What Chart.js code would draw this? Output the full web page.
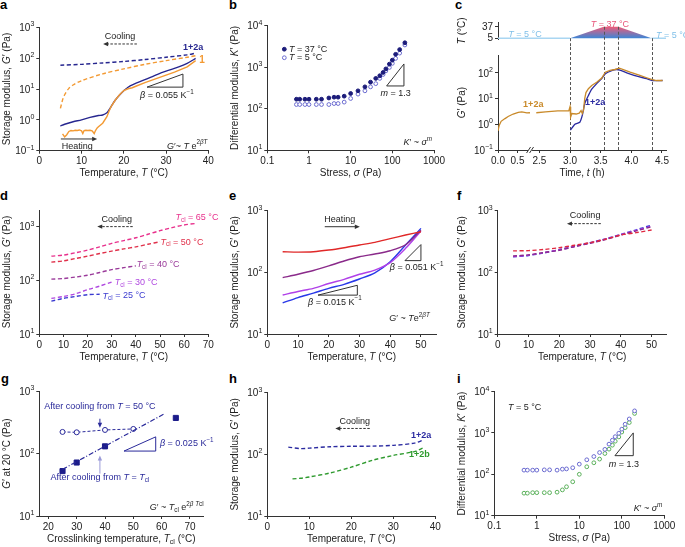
<!DOCTYPE html>
<html>
<head>
<meta charset="UTF-8">
<title>Figure</title>
<script src="https://cdn.jsdelivr.net/npm/chart.js"></script>
<style>
body { margin: 0; background: #fff; }
#fig { position: relative; width: 685px; height: 547px; overflow: hidden; font-family: "Liberation Sans", Arial, sans-serif; }
#fig canvas { position: absolute; }
.lab { position: absolute; font-weight: bold; font-size: 13px; line-height: 13px; color: #000; }
</style>
</head>
<body>
<div id="fig">
  <div class="lab" style="left:0px;top:-2px">a</div>
  <div class="lab" style="left:229px;top:-2px">b</div>
  <div class="lab" style="left:455px;top:-2px">c</div>
  <div class="lab" style="left:0px;top:189px">d</div>
  <div class="lab" style="left:229px;top:189px">e</div>
  <div class="lab" style="left:457px;top:189px">f</div>
  <div class="lab" style="left:1px;top:372px">g</div>
  <div class="lab" style="left:229px;top:372px">h</div>
  <div class="lab" style="left:457px;top:372px">i</div>
</div>
<script>
// ---- data ----
// a: G' vs T, heating (solid) and cooling (dashed)
const aTcool1 = [5, 5.5, 6, 7, 8, 10, 15, 20, 25, 30, 35, 37];
const aGcool1 = [2.36, 4.4, 6.5, 10.5, 13.5, 18.6, 31, 45, 63, 83, 107, 120];
const aTcool2a = [5, 10, 15, 20, 25, 30, 35, 37];
const aGcool2a = [59, 63, 70, 78, 90, 107, 128, 145];
const aTheat1 = [5.5, 6, 6.5, 7, 7.5, 8, 8.5, 9, 9.5, 10, 10.3, 10.6, 11, 11.5, 12, 12.5, 13, 13.3, 13.7, 14,
                 15, 16, 16.5, 17, 18, 19, 20, 21, 22, 23, 25, 27, 30, 32, 35, 37];
const aGheat1 = [0.35, 0.28, 0.33, 0.42, 0.45, 0.44, 0.46, 0.45, 0.47, 0.44, 0.36, 0.45, 0.46, 0.45, 0.46, 0.44, 0.36, 0.45, 0.55, 0.6,
                 0.78, 1.27, 1.9, 2.7, 4.4, 6.5, 8.9, 10.2, 11, 12.5, 16, 20, 28, 35, 52, 83];
const aTheat2a = [5, 6, 8, 10, 12, 14, 15, 16, 16.5, 17, 18, 19, 20, 21.5, 25, 28, 30, 33, 35, 37];
const aGheat2a = [0.63, 0.72, 0.87, 1.0, 1.2, 1.38, 1.44, 1.7, 2.1, 2.7, 4.4, 6.4, 8.8, 12.6, 20, 30, 38, 52, 68, 98];

// b, i: K' vs stress
const sig = [0.5, 0.6, 0.8, 1, 1.5, 2, 3, 4, 5, 7, 10, 15, 22, 30, 40, 50, 60, 70, 85, 100, 120, 150, 200];
const bK37 = [169, 169, 169, 169, 169, 169, 181, 189, 189, 200, 232, 269, 335, 435, 535, 620, 743, 905, 1180, 1470, 2030, 2640, 3850];
const bK5 = [126, 126, 126, 126, 126, 126, 126, 133, 133, 144, 176, 224, 269, 335, 400, 535, 665, 810, 980, 1230, 1620, 2170, 3400];
const iK2a = [126, 126, 126, 126, 128, 128, 126, 133, 135, 144, 176, 224, 269, 335, 400, 535, 665, 810, 980, 1230, 1620, 2170, 3400];
const iK2b = [35, 35, 36, 36, 36, 36, 37, 42, 50, 66, 100, 152, 190, 233, 318, 405, 505, 630, 800, 1050, 1340, 1780, 2950];

// c: temperature programme and G' vs time
const cTempT = [0, 3.0, 3.55, 3.79, 4.33, 4.57];
const cTempC = [5, 5, 37, 37, 5, 5];
const cTicksT = [0, 0.5, 2.5, 3.0, 3.5, 4.0, 4.5];
const cT1 = [0, 0.03, 0.08, 0.18, 0.26, 0.39, 0.52, 0.61, 0.74, 0.82, 0.83, 2.45, 2.6, 2.8, 2.98, 3.0, 3.01, 3.03, 3.1, 3.15,
             3.18, 3.2, 3.22, 3.24, 3.26, 3.3, 3.354, 3.435, 3.517, 3.576, 3.652, 3.734, 3.804, 3.87, 3.98, 4.14, 4.25, 4.34, 4.41, 4.51];
const cG1 = [0.55, 0.9, 1.3, 1.66, 2.0, 2.5, 2.9, 3.0, 2.75, 2.8, null, 2.8, 3.0, 3.3, 3.3, 4.8, 1.9, 2.6, 2.5, 2.7,
             3.4, 2.6, 3.5, 10, 17, 24, 32, 43, 62, 105, 123, 134, 150, 133, 105, 79, 64, 54, 50, 50];
const cT2 = [3.006, 3.08, 3.16, 3.2, 3.24, 3.3, 3.354, 3.435, 3.517, 3.576, 3.68, 3.76, 3.815, 3.925, 4.09, 4.25, 4.34, 4.51];
const cG2 = [0.59, 1.0, 1.2, 2.2, 6.3, 13, 23, 38, 59, 92, 122, 134, 126, 100, 74, 59, 50, 50];

// d: cooling curves for several crosslinking temperatures
const dT = [5, 10, 15, 20, 25, 30, 35, 40, 45, 50, 55, 60, 65];
const d65 = [282, 295, 326, 365, 420, 488, 550, 620, 720, 840, 960, 1075, 1150];
const d50 = [218, 230, 255, 282, 315, 350, 385, 420, 470, 524];
const d40 = [105, 108, 115, 124, 140, 158, 172, 186];
const d30 = [46, 50, 56, 67, 78, 93];
const d25 = [41, 46, 50, 54, 55];

// e (heating) and f (cooling)
const eT = [5, 10, 15, 20, 25, 30, 35, 40, 45, 50];
const eRed = [216, 213, 216, 230, 251, 278, 307, 352, 403, 456];
const ePur = [82, 93, 107, 127, 153, 179, 198, 224, 280, 480];
const eVio = [43, 49, 55, 66, 77, 93, 109, 144, 245, 470];
const eBlu = [32, 39, 46, 55, 64, 78, 98, 149, 277, 517];
const fRed = [223, 225, 235, 251, 275, 303, 345, 403, 440, 486];
const fPur = [184, 192, 210, 228, 262, 296, 340, 403, 470, 550];
const fVio = [180, 190, 208, 232, 262, 300, 345, 410, 480, 560];
const fBlu = [178, 188, 206, 234, 265, 303, 350, 413, 490, 585];

// g: G' at 20 C vs crosslinking temperature
const gT50 = [25, 30, 40, 50];
const gG50 = [223, 220, 240, 249];
const gTcl = [25, 30, 40, 65];
const gGcl = [52.5, 72, 131, 374];
const gFitT = [25, 61];
const gFitG = [56, 437];

// h: cooling, two compositions
const hT2a = [5, 8, 10, 15, 20, 25, 30, 35, 37];
const hG2a = [131, 124, 126, 133, 135, 136, 140, 152, 169];
const hT2b = [6, 8, 10, 15, 20, 25, 30, 35, 37];
const hG2b = [40, 41, 43, 50, 62, 80, 96, 111, 126];

// ---- helpers ----
const FONT = '"Liberation Sans", Arial, Helvetica, sans-serif';
Chart.defaults.font.family = FONT;
Chart.defaults.font.size = 10;
Chart.defaults.color = '#222';
const fig = document.getElementById('fig');

function ax(type, min, max, ticks, label) {
  return {
    type, min, max,
    afterBuildTicks: s => { s.ticks = ticks.map(v => ({ value: v })); },
    ticks: { autoSkip: false, maxRotation: 0, padding: 2, callback: label || (v => String(v)) },
    grid: { drawOnChartArea: false, tickLength: 3, color: '#333' },
    border: { color: '#333' }
  };
}

function parse(s) {
  const segs = [];
  let it = false, mode = '', buf = '';
  const push = () => { if (buf) segs.push({ t: buf, it, mode }); buf = ''; };
  for (let i = 0; i < s.length; i++) {
    const ch = s[i];
    if (ch === '*') { push(); it = !it; }
    else if ((ch === '^' || ch === '_') && s[i + 1] === '{') { push(); mode = ch; i++; }
    else if (ch === '}' && mode) { push(); mode = ''; }
    else buf += ch;
  }
  push();
  return segs;
}

function rich(c, x, y, str, size, align, color, bold) {
  const segs = parse(str);
  const fontOf = sg => (sg.it ? 'italic ' : '') + (bold ? 'bold ' : '') + (sg.mode ? size * 0.7 : size) + 'px ' + FONT;
  let tot = 0;
  segs.forEach(sg => { c.font = fontOf(sg); sg.w = c.measureText(sg.t).width; tot += sg.w; });
  let cx = align === 'center' ? x - tot / 2 : align === 'right' ? x - tot : x;
  c.textBaseline = 'middle';
  c.textAlign = 'left';
  c.fillStyle = color;
  segs.forEach(sg => {
    c.font = fontOf(sg);
    const dy = sg.mode === '^' ? -size * 0.38 : sg.mode === '_' ? size * 0.28 : 0;
    c.fillText(sg.t, cx, y + dy);
    cx += sg.w;
  });
}

function arrow(c, x1, y1, x2, y2, color, dash) {
  const ang = Math.atan2(y2 - y1, x2 - x1), hl = 5, hw = 2.2;
  c.strokeStyle = color; c.fillStyle = color; c.lineWidth = 1;
  c.setLineDash(dash ? [2.5, 1.5] : []);
  c.beginPath(); c.moveTo(x1, y1); c.lineTo(x2 - Math.cos(ang) * hl * 0.8, y2 - Math.sin(ang) * hl * 0.8); c.stroke();
  c.setLineDash([]);
  c.beginPath(); c.moveTo(x2, y2);
  c.lineTo(x2 - hl * Math.cos(ang) + hw * Math.sin(ang), y2 - hl * Math.sin(ang) - hw * Math.cos(ang));
  c.lineTo(x2 - hl * Math.cos(ang) - hw * Math.sin(ang), y2 - hl * Math.sin(ang) + hw * Math.cos(ang));
  c.closePath(); c.fill();
}

function drawNotes(ch, notes, xt, yt) {
  const c = ch.ctx, a = ch.chartArea;
  const X = v => ch.scales.x.getPixelForValue(v), Y = v => ch.scales.y.getPixelForValue(v);
  c.save();
  // power-of-ten labels on logarithmic y axes
  if (ch.scales.y.type === 'logarithmic') {
    for (const t of ch.scales.y.ticks) {
      const e = Math.round(Math.log10(t.value));
      rich(c, a.left - 5, Y(t.value) + 1, '10^{' + String(e).replace('-', '−') + '}', 10, 'right', '#222');
    }
  }
  for (const n of notes) {
    if (n.k === 't') rich(c, X(n.x), Y(n.y), n.s, n.sz || 9, n.a || 'center', n.c || '#222', n.b);
    else if (n.k === 'ar') arrow(c, X(n.x1), Y(n.y1), X(n.x2), Y(n.y2), n.c || '#333', n.d);
    else if (n.k === 'tri') {
      c.strokeStyle = n.c || '#333'; c.lineWidth = 1; c.setLineDash([]);
      c.beginPath();
      n.p.forEach(([x, y], i) => i ? c.lineTo(X(x), Y(y)) : c.moveTo(X(x), Y(y)));
      c.closePath(); c.stroke();
    } else if (n.k === 'pt') {
      c.beginPath(); c.arc(X(n.x), Y(n.y), 1.9, 0, 2 * Math.PI);
      c.fillStyle = n.f ? n.c : '#fff'; c.fill();
      c.strokeStyle = n.c; c.lineWidth = 1; c.setLineDash([]); c.stroke();
    }
  }
  if (yt) {
    c.save(); c.translate(7, (a.top + a.bottom) / 2); c.rotate(-Math.PI / 2);
    rich(c, 0, 0, yt, 10, 'center', '#222'); c.restore();
  }
  if (xt) rich(c, (a.left + a.right) / 2, a.bottom + 23, xt, 10, 'center', '#222');
  c.restore();
}

function mk(box, xs, ys, datasets, notes, xt, yt, pre, post) {
  const [L, T, W, H, x0, y0, x1, y1] = box;
  const cv = document.createElement('canvas');
  cv.width = W; cv.height = H;
  cv.style.left = L + 'px'; cv.style.top = T + 'px';
  cv.style.width = W + 'px'; cv.style.height = H + 'px';
  fig.appendChild(cv);
  const hidden = xs.display === false;
  if (!hidden) xs.afterFit = s => { s.height = T + H - y1; };
  ys.afterFit = s => { s.width = x0 - L; };
  return new Chart(cv, {
    type: 'line',
    data: { datasets },
    options: {
      responsive: false, animation: false, devicePixelRatio: 1,
      layout: { padding: { top: y0 - T, right: L + W - x1, left: 0, bottom: hidden ? T + H - y1 : 0 } },
      plugins: { legend: { display: false }, tooltip: { enabled: false } },
      scales: { x: xs, y: ys }
    },
    plugins: [{
      id: 'notes',
      beforeDatasetsDraw(ch) { if (pre) pre(ch); },
      afterDraw(ch) { drawNotes(ch, notes, xt, yt); if (post) post(ch); }
    }]
  });
}

const pts = (xs, ys, f) => xs.map((x, i) => ({ x: f ? f(x) : x, y: ys[i] }));
function ln(xs, ys, color, dash, extra) {
  return Object.assign({
    data: pts(xs, ys), borderColor: color, borderWidth: 1.4, borderDash: dash ? [4, 2.5] : [],
    pointRadius: 0, tension: 0.3, fill: false
  }, extra || {});
}
function sc(xs, ys, color, filled, style, r) {
  return {
    data: pts(xs, ys), showLine: false, pointStyle: style || 'circle', pointRadius: r || 1.9,
    pointBackgroundColor: filled ? color : '#fff', pointBorderColor: color, pointBorderWidth: 1
  };
}

const logDec = (lo, hi) => { const out = []; for (let e = lo; e <= hi; e++) out.push(Math.pow(10, e)); return out; };
const blank = () => '';
const TEMP_T = 'Temperature, *T* (°C)';
const STORAGE = 'Storage modulus, *G*′ (Pa)';
const KDIFF = 'Differential modulus, *K*′ (Pa)';

// ---- a ----
mk([0, 0, 228, 182, 39.3, 27.3, 208.3, 150.7],
  ax('linear', 0, 40, [0, 10, 20, 30, 40]),
  ax('logarithmic', 0.1, 1000, logDec(-1, 3), blank),
  [
    ln(aTcool1, aGcool1, '#f39a33', true),
    ln(aTcool2a, aGcool2a, '#26268f', true),
    ln(aTheat1, aGheat1, '#f39a33', false, { tension: 0 }),
    ln(aTheat2a, aGheat2a, '#26268f', false)
  ],
  [
    { k: 't', x: 19.1, y: 490, s: 'Cooling' },
    { k: 'ar', x1: 23.1, y1: 288, x2: 15.1, y2: 288, d: true },
    { k: 't', x: 36.4, y: 229, s: '1+2a', c: '#26268f', b: true },
    { k: 't', x: 38.5, y: 87, s: '1', c: '#f39a33', b: true, sz: 10 },
    { k: 'tri', p: [[25.5, 11.5], [34, 11.5], [34, 30.5]] },
    { k: 't', x: 30.2, y: 6.3, s: '*β* = 0.055 K^{−1}' },
    { k: 't', x: 9.0, y: 0.141, s: 'Heating' },
    { k: 'ar', x1: 5.1, y1: 0.24, x2: 13.7, y2: 0.24 },
    { k: 't', x: 35, y: 0.141, s: '*G*′~ *T* e^{2*βT*}' }
  ], TEMP_T, STORAGE);

// ---- b ----
mk([228, 0, 228, 182, 267.3, 25.5, 434, 150.3],
  ax('logarithmic', 0.1, 1000, [0.1, 1, 10, 100, 1000]),
  ax('logarithmic', 10, 10000, logDec(1, 4), blank),
  [sc(sig, bK37, '#1c1c7a', true), sc(sig, bK5, '#6b6bd0', false)],
  [
    { k: 'pt', x: 0.256, y: 2690, f: true, c: '#1c1c7a' },
    { k: 't', x: 0.33, y: 2690, s: '*T* = 37 °C', a: 'left' },
    { k: 'pt', x: 0.256, y: 1680, f: false, c: '#6b6bd0' },
    { k: 't', x: 0.33, y: 1680, s: '*T* = 5 °C', a: 'left' },
    { k: 'tri', p: [[73, 352], [190, 352], [190, 1190]] },
    { k: 't', x: 120, y: 234, s: '*m* = 1.3' },
    { k: 't', x: 900, y: 15, s: '*K*′ ~ *σ*^{*m*}', a: 'right' }
  ], 'Stress, *σ* (Pa)', KDIFF);

// ---- c ----
const tx = t => t < 1.5 ? 0.636 * t : t - 1.8254;
const cX = (hide) => {
  const s = ax('linear', 0, 2.74, cTicksT.map(tx), (v, i) => cTicksT[i].toFixed(1));
  if (hide) s.display = false;
  return s;
};
const vlines = (ch, fromTemp) => {
  const c = ch.ctx, X = ch.scales.x, Y = ch.scales.y;
  c.save(); c.strokeStyle = '#555'; c.lineWidth = 1; c.setLineDash([3, 2]);
  for (let i = 1; i <= 4; i++) {
    const x = Math.round(X.getPixelForValue(tx(cTempT[i]))) + 0.5;
    c.beginPath();
    c.moveTo(x, fromTemp ? Y.getPixelForValue(cTempC[i]) : 0);
    c.lineTo(x, fromTemp ? ch.height : ch.chartArea.bottom);
    c.stroke();
  }
  c.restore();
};
mk([455, 0, 230, 47, 498, 22.7, 666, 42.7],
  cX(true),
  ax('linear', 2.7, 48.4, [5, 37]),
  [{
    data: pts(cTempT, cTempC, tx), borderWidth: 1.5, pointRadius: 0, tension: 0,
    fill: { value: 5 },
    segment: { borderColor: s => (s.p0DataIndex >= 1 && s.p0DataIndex <= 3) ? 'rgba(0,0,0,0)' : '#a9d6f2' },
    backgroundColor: ctx => {
      const ch = ctx.chart;
      if (!ch.chartArea) return 'rgba(0,0,0,0)';
      const g = ch.ctx.createLinearGradient(0, ch.scales.y.getPixelForValue(37), 0, ch.scales.y.getPixelForValue(5));
      g.addColorStop(0, '#ee5a78');
      g.addColorStop(1, '#3d86d6');
      return g;
    }
  }],
  [
    { k: 't', x: 0.44, y: 14.6, s: '*T* = 5 °C', c: '#7fbfe8' },
    { k: 't', x: tx(3.65), y: 44, s: '*T* = 37 °C', c: '#e8557a' },
    { k: 't', x: 2.577, y: 11.2, s: '*T* = 5 °C', c: '#7fbfe8', a: 'left' }
  ], null, '*T* (°C)', null, ch => vlines(ch, true));

mk([455, 47, 230, 135, 498, 54.3, 666, 150],
  cX(false),
  ax('logarithmic', 0.1, 490, logDec(-1, 2), blank),
  [
    { data: pts(cT1, cG1, tx), borderColor: '#c98a2a', borderWidth: 1.3, pointRadius: 0, tension: 0, spanGaps: false },
    { data: pts(cT2, cG2, tx), borderColor: '#2a2aa0', borderWidth: 1.3, pointRadius: 0, tension: 0.2 }
  ],
  [
    { k: 't', x: 0.575, y: 5.8, s: '1+2a', c: '#c98a2a', b: true },
    { k: 't', x: tx(3.41), y: 6.9, s: '1+2a', c: '#2a2aa0', b: true }
  ], 'Time, *t* (h)', '*G*′ (Pa)',
  ch => vlines(ch, false),
  ch => {
    const c = ch.ctx, x = ch.scales.x.getPixelForValue(0.523), y = ch.chartArea.bottom;
    c.save();
    c.fillStyle = '#fff'; c.fillRect(x - 2, y - 2, 4, 4);
    c.strokeStyle = '#333'; c.lineWidth = 1;
    [-1.5, 1.5].forEach(o => { c.beginPath(); c.moveTo(x + o - 2, y + 3); c.lineTo(x + o + 2, y - 3); c.stroke(); });
    c.restore();
  });

// ---- d ----
const dSlice = arr => dT.slice(0, arr.length);
mk([0, 182, 228, 182, 39.3, 210, 208.3, 334],
  ax('linear', 0, 70, [0, 10, 20, 30, 40, 50, 60, 70]),
  ax('logarithmic', 10, 2040, logDec(1, 3), blank),
  [
    ln(dSlice(d65), d65, '#e8308c', true),
    ln(dSlice(d50), d50, '#e0304a', true),
    ln(dSlice(d40), d40, '#9a3a9a', true),
    ln(dSlice(d30), d30, '#b048e0', true),
    ln(dSlice(d25), d25, '#3a3ad0', true)
  ],
  [
    { k: 't', x: 32.1, y: 1350, s: 'Cooling' },
    { k: 'ar', x1: 38.7, y1: 1000, x2: 24.0, y2: 1000, d: true },
    { k: 't', x: 65.3, y: 1480, s: '*T*_{cl} = 65 °C', c: '#e8308c' },
    { k: 't', x: 59.1, y: 513, s: '*T*_{cl} = 50 °C', c: '#e0304a' },
    { k: 't', x: 49.2, y: 195, s: '*T*_{cl} = 40 °C', c: '#9a3a9a' },
    { k: 't', x: 40.1, y: 91, s: '*T*_{cl} = 30 °C', c: '#b048e0' },
    { k: 't', x: 35.1, y: 51, s: '*T*_{cl} = 25 °C', c: '#3a3ad0' }
  ], TEMP_T, STORAGE);

// ---- e ----
mk([228, 182, 228, 182, 267.3, 210.7, 436.3, 334],
  ax('linear', 0, 55, [0, 10, 20, 30, 40, 50]),
  ax('logarithmic', 10, 1000, logDec(1, 3), blank),
  [
    ln(eT, eRed, '#e02828', false),
    ln(eT, ePur, '#8a2a8a', false),
    ln(eT, eVio, '#b040e8', false),
    ln(eT, eBlu, '#2838e8', false)
  ],
  [
    { k: 't', x: 23.6, y: 724, s: 'Heating' },
    { k: 'ar', x1: 18.7, y1: 550, x2: 30.1, y2: 550 },
    { k: 'tri', p: [[44.8, 155], [50, 155], [50, 282]] },
    { k: 't', x: 48.6, y: 120, s: '*β* = 0.051 K^{−1}' },
    { k: 'tri', p: [[16.5, 42.7], [29.3, 42.7], [29.3, 61.7]] },
    { k: 't', x: 22, y: 33, s: '*β* = 0.015 K^{−1}' },
    { k: 't', x: 46.3, y: 17.8, s: '*G*′ ~ *T*e^{2*βT*}' }
  ], TEMP_T, STORAGE);

// ---- f ----
mk([455, 182, 230, 182, 497.7, 210.7, 666.7, 334],
  ax('linear', 0, 54.9, [0, 10, 20, 30, 40, 50]),
  ax('logarithmic', 10, 1000, logDec(1, 3), blank),
  [
    ln(eT, fRed, '#e02840', true),
    ln(eT, fPur, '#8a2a8a', true),
    ln(eT, fVio, '#b040e8', true),
    ln(eT, fBlu, '#3a3ad8', true)
  ],
  [
    { k: 't', x: 28.4, y: 830, s: 'Cooling' },
    { k: 'ar', x1: 33.5, y1: 617, x2: 22.5, y2: 617, d: true }
  ], TEMP_T, STORAGE);

// ---- g ----
mk([0, 364, 228, 183, 39.3, 391.3, 203.3, 516],
  ax('linear', 16.8, 74.7, [20, 30, 40, 50, 60, 70]),
  ax('logarithmic', 10, 1000, logDec(1, 3), blank),
  [
    ln(gFitT, gFitG, '#2a2a9a', false, { borderDash: [5, 2, 1, 2], borderWidth: 1.2, tension: 0 }),
    Object.assign(sc(gT50, gG50, '#2a2a9a', false, 'circle', 2.5), { showLine: true, borderColor: '#2a2a9a', borderWidth: 1, borderDash: [3, 2] }),
    sc(gTcl, gGcl, '#1c1c8a', true, 'rect', 3.6)
  ],
  [
    { k: 't', x: 38.2, y: 562, s: 'After cooling from *T* = 50 °C', c: '#2a2a9a' },
    { k: 'ar', x1: 38.2, y1: 363, x2: 38.2, y2: 261, c: '#2a2a9a' },
    { k: 't', x: 38.2, y: 40.7, s: 'After cooling from *T* = *T*_{cl}', c: '#2a2a9a' },
    { k: 'ar', x1: 38.2, y1: 47.9, x2: 38.2, y2: 93, c: '#9a9ad8' },
    { k: 'tri', p: [[46.7, 110], [57.9, 110], [57.9, 186]], c: '#2a2a9a' },
    { k: 't', x: 59.4, y: 145, s: '*β* = 0.025 K^{−1}', c: '#2a2a9a', a: 'left' },
    { k: 't', x: 65.3, y: 13.5, s: '*G*′ ~ *T*_{cl} e^{2*β T*cl}' }
  ], 'Crosslinking temperature, *T*_{cl} (°C)', '*G*′ at 20 °C (Pa)');

// ---- h ----
mk([228, 364, 228, 183, 267.3, 392.7, 435.3, 516],
  ax('linear', 0, 40, [0, 10, 20, 30, 40]),
  ax('logarithmic', 10, 1000, logDec(1, 3), blank),
  [ln(hT2a, hG2a, '#2a2aa0', true), ln(hT2b, hG2b, '#2e9a2e', true)],
  [
    { k: 't', x: 20.8, y: 339, s: 'Cooling' },
    { k: 'ar', x1: 24.4, y1: 263, x2: 16.2, y2: 263, d: true },
    { k: 't', x: 36.6, y: 204, s: '1+2a', c: '#2a2aa0', b: true },
    { k: 't', x: 36.2, y: 98, s: '1+2b', c: '#2e9a2e', b: true }
  ], TEMP_T, STORAGE);

// ---- i ----
mk([455, 364, 230, 183, 494.3, 391.5, 664.3, 515.7],
  ax('logarithmic', 0.1, 1000, [0.1, 1, 10, 100, 1000]),
  ax('logarithmic', 10, 10000, logDec(1, 4), blank),
  [sc(sig, iK2a, '#6a6ad0', false), sc(sig, iK2b, '#5ab05a', false)],
  [
    { k: 't', x: 0.21, y: 4070, s: '*T* = 5 °C', a: 'left' },
    { k: 'tri', p: [[69, 282], [186, 282], [186, 1000]] },
    { k: 't', x: 112, y: 168, s: '*m* = 1.3' },
    { k: 't', x: 900, y: 15, s: '*K*′ ~ *σ*^{*m*}', a: 'right' }
  ], 'Stress, *σ* (Pa)', KDIFF);
</script>
</body>
</html>
